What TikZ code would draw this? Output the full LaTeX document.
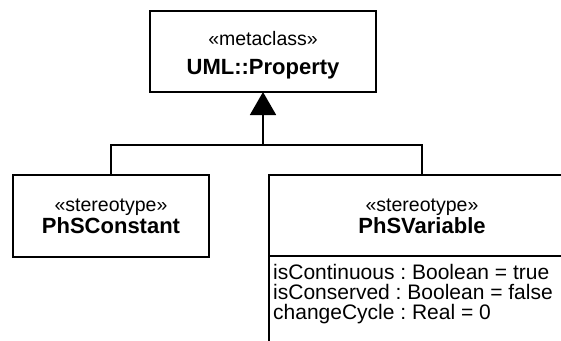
\documentclass[tikz,border=0pt]{standalone}
\usepackage{fontspec}
\setmainfont{Liberation Sans}
\usetikzlibrary{arrows.meta}
\frenchspacing
\begin{document}
\begin{tikzpicture}[x=1pt,y=-1pt,
  box/.style={draw, line width=1.3pt, inner sep=0pt, outer sep=0pt},
  stereo/.style={anchor=base, inner sep=0pt, font=\fontsize{19.5}{19.5}\selectfont},
  cname/.style={anchor=base, inner sep=0pt, font=\fontsize{22}{22}\selectfont\bfseries},
  attr/.style={anchor=base west, inner sep=0pt, font=\fontsize{21}{21}\selectfont},
  conn/.style={line width=1.8pt}]
\clip (0,0) rectangle (561,340);
\fill[white] (0,0) rectangle (561,340);
% boxes
\node[box, minimum width=226pt, minimum height=81pt] (meta) at (263,51.5) {};
\node[box, minimum width=196pt, minimum height=82pt] (const) at (111,216) {};
\node[box, minimum width=306pt, minimum height=190pt] (var) at (422,270) {};
\draw[line width=1.3pt] (var.west |- 0,256) -- (var.east |- 0,256);
% texts
\node[stereo] (metaS) at (263,45) {«metaclass»};
\node[cname] (metaN) at (263,74) {UML::Property};
\node[stereo] (constS) at (111,211) {«stereotype»};
\node[cname] (constN) at (111,233) {PhSConstant};
\node[stereo] (varS) at (422,211) {«stereotype»};
\node[cname] (varN) at (422,233) {PhSVariable};
\node[attr] (a1) at (273,279) {isContinuous : Boolean = true};
\node[attr] (a2) at (273,299) {isConserved : Boolean = false};
\node[attr] (a3) at (273,319) {changeCycle : Real = 0};
% connectors
\coordinate (j) at (263,145);
\draw[conn] (const.north) |- (j);
\draw[conn] (var.north) |- (j);
\draw[conn, -{Triangle[length=23pt,width=26pt]}] (j) -- (meta.south);
\end{tikzpicture}
\end{document}
